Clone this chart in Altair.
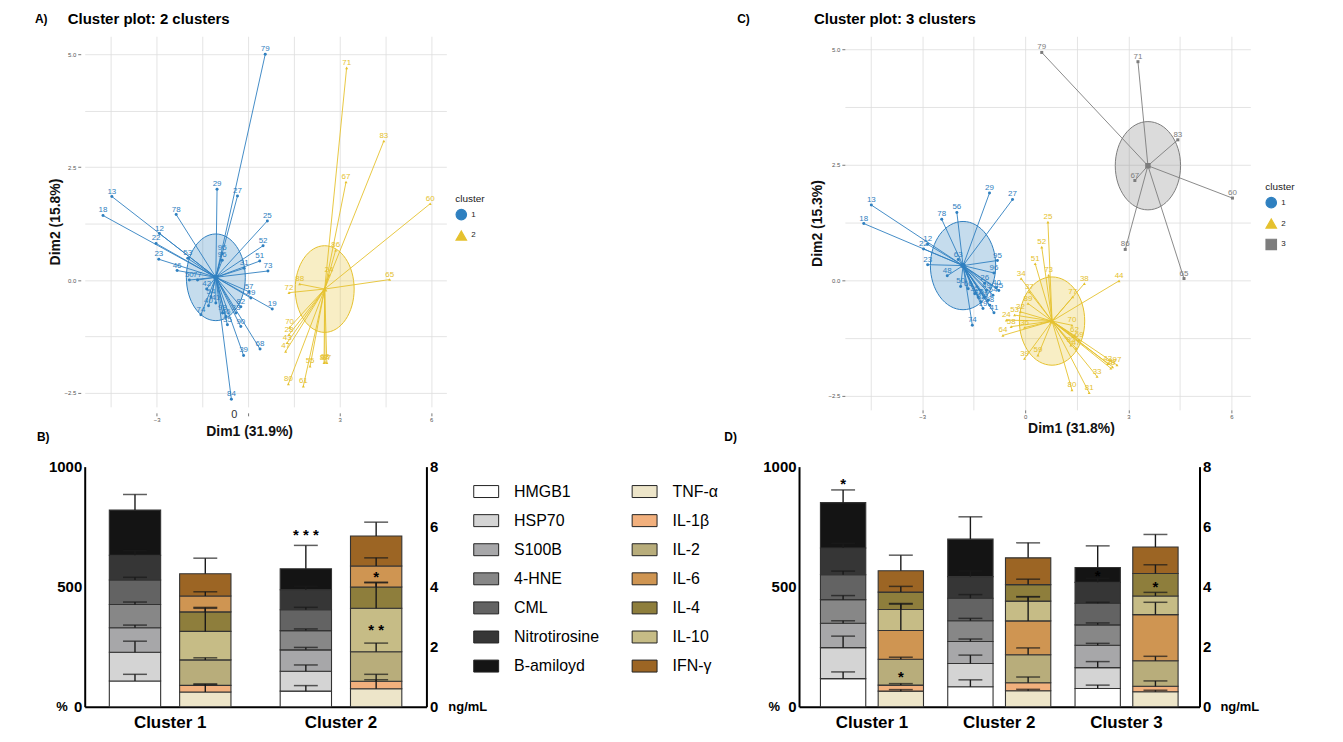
import altair as alt
import pandas as pd

FONT = "Liberation Sans"

# ================= Panel A : cluster plot, 2 clusters =================
a1_ids = [79, 13, 18, 78, 29, 27, 25, 52, 51, 73, 19, 68, 39, 84, 90, 12, 22, 23, 46, 53,
          50, 77, 95, 96, 31, 42, 54, 41, 74, 57, 49, 82, 33, 66, 35, 40, 98]
a1_x = [0.56, -4.47, -4.76, -2.36, -1.02, -0.35, 0.63, 0.49, 0.38, 0.65, 0.79, 0.39, -0.15, -0.55,
        -0.24, -2.91, -3.02, -2.93, -2.33, -1.98, -1.93, -1.66, -0.85, -0.85, -0.13, -1.36, -1.22,
        -1.06, -1.55, 0.03, 0.09, -0.24, -0.40, -0.73, -0.68, -1.30, -0.84]
a1_y = [5.00, 1.85, 1.43, 1.45, 2.01, 1.86, 1.31, 0.76, 0.42, 0.20, -0.64, -1.53, -1.67, -2.64,
        -1.03, 1.03, 0.81, 0.46, 0.21, 0.48, 0.00, 0.00, 0.59, 0.44, 0.26, -0.20, -0.37, -0.51,
        -0.77, -0.26, -0.40, -0.59, -0.73, -0.81, -0.99, -0.57, -0.73]
a2_ids = [71, 83, 67, 60, 86, 24, 65, 88, 72, 70, 28, 43, 47, 87, 97, 63, 55, 80, 61]
a2_x = [3.23, 4.45, 3.21, 5.97, 2.87, 2.65, 4.64, 1.69, 1.34, 1.36, 1.34, 1.28, 1.23, 2.49, 2.58,
        2.52, 2.03, 1.32, 1.81]
a2_y = [4.70, 3.08, 2.17, 1.69, 0.66, 0.11, 0.01, -0.09, -0.28, -1.05, -1.21, -1.39, -1.58, -1.83,
        -1.83, -1.82, -1.91, -2.30, -2.35]
a_cen_cluster = ["1", "2"]
a_cen_x = [-1.06, 2.51]
a_cen_y = [0.06, -0.20]

# ================= Panel C : cluster plot, 3 clusters =================
c1_ids = [13, 18, 78, 56, 29, 27, 12, 22, 23, 63, 48, 95, 96, 50, 26, 45, 41, 74, 19, 31, 42, 40,
          54, 82, 66, 35, 98, 57, 49]
c1_x = [-4.48, -4.70, -2.43, -1.99, -1.04, -0.37, -2.84, -2.96, -2.84, -1.95, -2.27, -0.81, -0.91,
        -1.88, -1.18, -0.77, -0.91, -1.54, -1.23, -1.08, -1.37, -0.84, -0.94, -1.28, -1.66, -1.47,
        -1.03, -1.20, -1.13]
c1_y = [1.63, 1.23, 1.32, 1.47, 1.89, 1.75, 0.78, 0.68, 0.34, 0.45, 0.10, 0.43, 0.16, -0.13, -0.06,
        -0.22, -0.70, -0.97, -0.61, -0.43, -0.36, -0.16, -0.32, -0.47, -0.18, -0.29, -0.54, -0.36,
        -0.22]
c2_ids = [25, 52, 51, 73, 34, 38, 44, 77, 37, 89, 32, 53, 24, 64, 58, 36, 39, 59, 70, 62, 69, 92,
          47, 97, 87, 33, 80, 81, 43, 28]
c2_x = [0.66, 0.48, 0.29, 0.68, -0.12, 1.72, 2.73, 1.38, 0.12, 0.08, -0.14, -0.31, -0.55, -0.65,
        -0.41, -0.02, -0.02, 0.37, 1.36, 1.43, 1.57, 1.33, 1.48, 2.67, 2.54, 2.09, 1.36, 1.86, 2.40,
        2.49]
c2_y = [1.26, 0.72, 0.36, 0.11, 0.04, -0.07, -0.01, -0.36, -0.25, -0.50, -0.68, -0.75, -0.86, -1.19,
        -1.00, -1.02, -1.69, -1.62, -0.97, -1.19, -1.29, -1.40, -1.47, -1.83, -1.87, -2.08, -2.37,
        -2.43, -1.80, -1.90]
c3_ids = [79, 71, 83, 67, 60, 86, 65]
c3_x = [0.48, 3.28, 4.44, 3.19, 6.03, 2.91, 4.62]
c3_y = [4.93, 4.73, 3.04, 2.16, 1.78, 0.67, 0.04]
c_cen_cluster = ["1", "2", "3"]
c_cen_x = [-1.81, 0.78, 3.57]
c_cen_y = [0.32, -0.88, 2.48]

CL_COLORS = ["#2f80c0", "#e5c12e", "#7d7d7d"]
CL_SHAPES = ["circle", "triangle-up", "square"]

# ================= Panels B & D : stacked bars =================
MARKERS = ["HMGB1", "HSP70", "S100B", "4-HNE", "CML", "Nitrotirosine", "B-amiloyd"]
MARKER_COLORS = ["#ffffff", "#d4d4d4", "#a7a7a9", "#878787", "#636363", "#363636", "#141414"]
CYTOKINES = ["TNF-α", "IL-1β", "IL-2", "IL-6", "IL-4", "IL-10", "IFN-γ"]
CYTO_COLORS = ["#ede5c9", "#f2b07d", "#b8ad7b", "#cf9552", "#8e7e3c", "#c6bc86", "#9c6524"]

b_clusters = ["Cluster 1", "Cluster 2"]
b_mark_vals = [[107, 120, 102, 97, 102, 103, 188], [65, 83, 89, 80, 87, 83, 88]]
b_mark_errs = [[28, 46, 11, 10, 11, 19, 65], [23, 26, 10, 7, 10, 15, 97]]
b_cyto_order = [["TNF-α", "IL-1β", "IL-2", "IL-10", "IL-4", "IL-6", "IFN-γ"],
                ["TNF-α", "IL-1β", "IL-2", "IL-10", "IL-4", "IL-6", "IFN-γ"]]
b_cyto_vals = [[0.49, 0.22, 0.85, 0.95, 0.65, 0.53, 0.74], [0.60, 0.25, 0.98, 1.45, 0.71, 0.70, 1.00]]
b_cyto_errs = [[0.25, 0.05, 0.07, 0.80, 0.12, 0.14, 0.52], [0.30, 0.23, 0.29, 0.87, 0.14, 0.27, 0.46]]
b_mstar_cluster = ["Cluster 2"]
b_mstar_y = [731]
b_mstar_text = ["* * *"]
b_cstar_cluster = ["Cluster 2", "Cluster 2"]
b_cstar_y = [4.45, 2.68]
b_cstar_text = ["*", "* *"]

d_clusters = ["Cluster 1", "Cluster 2", "Cluster 3"]
d_mark_vals = [[117, 129, 102, 98, 104, 111, 189], [83, 97, 92, 86, 94, 90, 156],
               [76, 87, 93, 85, 90, 87, 62]]
d_mark_errs = [[28, 48, 10, 17, 15, 19, 53], [29, 35, 10, 10, 15, 23, 93], [14, 25, 8, 8, 4, 17, 90]]
d_cyto_order = [["TNF-α", "IL-1β", "IL-2", "IL-6", "IL-10", "IL-4", "IFN-γ"]] * 3
d_cyto_vals = [[0.52, 0.20, 0.86, 0.96, 0.70, 0.58, 0.71], [0.53, 0.27, 0.93, 1.13, 0.66, 0.55, 0.89],
               [0.50, 0.18, 0.85, 1.54, 0.62, 0.75, 0.88]]
d_cyto_errs = [[0.05, 0.05, 0.07, 0.88, 0.20, 0.19, 0.52], [0.05, 0.19, 0.23, 0.81, 0.14, 0.18, 0.50],
               [0.05, 0.18, 0.15, 0.41, 0.12, 0.29, 0.42]]
d_mstar_cluster = ["Cluster 1", "Cluster 3"]
d_mstar_y = [946, 559]
d_mstar_text = ["*", "*"]
d_cstar_cluster = ["Cluster 1", "Cluster 3"]
d_cstar_y = [1.13, 4.12]
d_cstar_text = ["*", "*"]

# legend: first column markers, second column cytokines (column-major fill)
LEG_DOMAIN = MARKERS + CYTOKINES
LEG_RANGE = MARKER_COLORS + CYTO_COLORS


def ellipse_path(r):
    k = 0.5523
    return (f"M0,-1C{k*r:.4f},-1,{r:.4f},{-k:.4f},{r:.4f},0"
            f"C{r:.4f},{k:.4f},{k*r:.4f},1,0,1"
            f"C{-k*r:.4f},1,{-r:.4f},{k:.4f},{-r:.4f},0"
            f"C{-r:.4f},{-k:.4f},{-k*r:.4f},-1,0,-1Z")


def guide_layer(x1, x2, y1, y2):
    return alt.Chart(pd.DataFrame({"g": [0]})).mark_rect(opacity=0).encode(
        x=alt.value(x1), x2=alt.value(x2), y=alt.value(y1), y2=alt.value(y2))


def text_layer(txt, x, y, size, weight="bold", color="black"):
    return alt.Chart(pd.DataFrame({"t": [txt]})).mark_text(
        align="left", baseline="middle", fontSize=size, fontWeight=weight, font=FONT, color=color
    ).encode(text="t:N", x=alt.value(x), y=alt.value(y))


def cluster_panel(groups, cen_cl, cen_x, cen_y, x_dom, y_dom, w, h, xtitle, ytitle,
                  xtitle_x, x_off, y_off, ytitle_pad, ell_ratio, ell_size, leg_x, leg_y,
                  texts, guide, hide_zero):
    frames = []
    for cl, ids, xs, ys in groups:
        frames.append(pd.DataFrame({"id": [str(i) for i in ids], "x": xs, "y": ys, "cluster": cl}))
    pts = pd.concat(frames, ignore_index=True)
    pts["cx"] = pts["cluster"].map(dict(zip(cen_cl, cen_x)))
    pts["cy"] = pts["cluster"].map(dict(zip(cen_cl, cen_y)))
    cen = pd.DataFrame({"cluster": cen_cl, "x": cen_x, "y": cen_y})
    n = len(cen_cl)

    xlab = ("datum.value % 3 == 0 && datum.value != 0 ? datum.label : ''" if hide_zero
            else "datum.value % 3 == 0 ? datum.label : ''")
    xaxis = alt.Axis(values=[-4.5, -3, -1.5, 0, 1.5, 3, 4.5, 6], labelExpr=xlab,
                     grid=True, gridColor="#dddddd", gridWidth=0.8, domain=False,
                     tickColor={"condition": {"test": "datum.value % 3 == 0", "value": "#555555"},
                                "value": "transparent"},
                     tickSize=3, tickWidth=0.8, offset=x_off,
                     labelFontSize=6, labelColor="#555555", labelPadding=1,
                     title=xtitle, titleFontSize=14, titleFontWeight="bold", titleColor="#111111",
                     titlePadding=2, titleX=xtitle_x)
    yaxis = alt.Axis(values=[-2.5, -1.25, 0, 1.25, 2.5, 3.75, 5.0],
                     labelExpr="datum.value % 2.5 == 0 ? format(datum.value, '.1f') : ''",
                     grid=True, gridColor="#dddddd", gridWidth=0.8, domain=False,
                     tickColor={"condition": {"test": "datum.value % 2.5 == 0", "value": "#555555"},
                                "value": "transparent"},
                     tickSize=3, tickWidth=0.8, offset=y_off,
                     labelFontSize=6, labelColor="#555555", labelPadding=2,
                     title=ytitle, titleFontSize=14, titleFontWeight="bold", titleColor="#111111",
                     titlePadding=ytitle_pad)
    X = alt.X("x:Q", scale=alt.Scale(domain=x_dom, nice=False, zero=False), axis=xaxis)
    Y = alt.Y("y:Q", scale=alt.Scale(domain=y_dom, nice=False, zero=False), axis=yaxis)
    col_sc = alt.Scale(domain=cen_cl, range=CL_COLORS[:n])
    shp_sc = alt.Scale(domain=cen_cl, range=CL_SHAPES[:n])
    leg = alt.Legend(title="cluster", orient="none", legendX=leg_x, legendY=leg_y,
                     titleFontSize=10, titleFontWeight="normal", titleColor="#222222",
                     labelFontSize=8, labelColor="#222222", symbolSize=110, symbolOpacity=1,
                     symbolStrokeWidth=1.2, rowPadding=6, padding=0)
    C = alt.Color("cluster:N", scale=col_sc, legend=leg)
    S = alt.Shape("cluster:N", scale=shp_sc, legend=leg)
    shape = ellipse_path(ell_ratio)

    ell_fill = alt.Chart(cen).mark_point(shape=shape, size=ell_size, filled=True,
                                         opacity=0.28).encode(x=X, y=Y, color=C)
    ell_line = alt.Chart(cen).mark_point(shape=shape, size=ell_size, filled=False,
                                         opacity=1, strokeWidth=1).encode(x=X, y=Y, color=C)
    rays = alt.Chart(pts).mark_rule(strokeWidth=0.9).encode(
        x=X, y=Y, x2="cx:Q", y2="cy:Q", color=C)
    dots = alt.Chart(pts).mark_point(filled=True, size=9, opacity=1).encode(
        x=X, y=Y, color=C, shape=S)
    labels = alt.Chart(pts).mark_text(fontSize=8, dy=-5, font=FONT).encode(
        x=X, y=Y, text="id:N", color=C)
    cents = alt.Chart(cen).mark_point(filled=True, size=30, opacity=1).encode(
        x=X, y=Y, color=C, shape=S)
    layers = [guide_layer(*guide), ell_fill, ell_line, rays, dots, labels, cents]
    layers += [text_layer(*t) for t in texts]
    return alt.layer(*layers).properties(width=w, height=h)


def bar_panel(clusters, m_vals, m_errs, c_order, c_vals, c_errs,
              ms_cl, ms_y, ms_t, cs_cl, cs_y, cs_t,
              w, h, x_po, off_pi, off_po, legend, pct_x, ng_x, guide):
    mrows, crows = [], []
    for ci, cl in enumerate(clusters):
        top = 0.0
        for name, v, e in zip(MARKERS, m_vals[ci], m_errs[ci]):
            mrows.append(dict(cluster=cl, bar="a", comp=name, y0=top, y1=top + v, etop=top + v + e))
            top += v
        top = 0.0
        for name, v, e in zip(c_order[ci], c_vals[ci], c_errs[ci]):
            crows.append(dict(cluster=cl, bar="b", comp=name, y0=top, y1=top + v, etop=top + v + e))
            top += v
    mdf, cdf = pd.DataFrame(mrows), pd.DataFrame(crows)
    msd = pd.DataFrame({"cluster": ms_cl, "bar": "a", "y": ms_y, "t": ms_t})
    csd = pd.DataFrame({"cluster": cs_cl, "bar": "b", "y": cs_y, "t": cs_t})

    xaxis = alt.Axis(labelFontSize=17, labelFontWeight="bold", labelColor="black",
                     domainColor="black", domainWidth=2, ticks=False, labelPadding=8,
                     labelAngle=0, title=None, grid=False)
    X = alt.X("cluster:N", scale=alt.Scale(domain=clusters, paddingInner=0, paddingOuter=x_po),
              axis=xaxis, title=None)
    XO = alt.XOffset("bar:N", scale=alt.Scale(domain=["a", "b"], paddingInner=off_pi,
                                              paddingOuter=off_po))
    col = alt.Color("comp:N", scale=alt.Scale(domain=LEG_DOMAIN, range=LEG_RANGE), legend=legend)

    def side(df, sdf, dom, vals, orient, unit_txt, unit_x, unit_align):
        ax = alt.Axis(values=vals, orient=orient, format="d", labelFontSize=15,
                      labelFontWeight="bold", labelColor="black", domainColor="black",
                      domainWidth=2, ticks=False, labelPadding=3, grid=False, title=None)
        sc = alt.Scale(domain=dom, nice=False, zero=True)
        bars = alt.Chart(df).mark_bar(stroke="#333333", strokeWidth=1.1).encode(
            x=X, xOffset=XO, y=alt.Y("y1:Q", scale=sc, axis=ax, title=None), y2="y0:Q", color=col)
        err = alt.Chart(df).mark_rule(color="#1a1a1a", strokeWidth=1.4).encode(
            x=X, xOffset=XO, y=alt.Y("y1:Q", scale=sc, axis=ax, title=None), y2="etop:Q")
        cap = alt.Chart(df).mark_tick(color="#1a1a1a", thickness=1.5, size=24).encode(
            x=X, xOffset=XO, y=alt.Y("etop:Q", scale=sc, axis=ax, title=None))
        stars = alt.Chart(sdf).mark_text(fontSize=15, fontWeight="bold", dy=4, color="black").encode(
            x=X, xOffset=XO, y=alt.Y("y:Q", scale=sc, axis=ax, title=None), text="t:N")
        unit = alt.Chart(pd.DataFrame({"t": [unit_txt]})).mark_text(
            align=unit_align, baseline="middle", fontSize=13, fontWeight="bold",
            color="black").encode(text="t:N", x=alt.value(unit_x), y=alt.datum(0))
        return alt.layer(bars, err, cap, stars, unit)

    left = side(mdf, msd, [0, 1000], [0, 500, 1000], "left", "%", pct_x, "right")
    right = side(cdf, csd, [0, 8], [0, 2, 4, 6, 8], "right", "ng/mL", ng_x, "left")
    return alt.layer(guide_layer(*guide), left, right).resolve_scale(y="independent").properties(
        width=w, height=h)


# ---------------- build panels ----------------
panelA = cluster_panel(
    [("1", a1_ids, a1_x, a1_y), ("2", a2_ids, a2_x, a2_y)],
    a_cen_cluster, a_cen_x, a_cen_y, [-5.36, 6.5], [-2.81, 5.4], 363, 372,
    "Dim1 (31.9%)", "Dim2 (15.8%)", 165, 6, 4, 1, 0.68, 7569, 372, 158,
    [("A)", -50, -17, 12), ("Cluster plot: 2 clusters", -17, -17, 15), ("B)", -48, 402, 12),
     ("0", 147, 380, 11, "normal", "#333333")],
    (-55, 415, -27, 410), True)

panelC = cluster_panel(
    [("1", c1_ids, c1_x, c1_y), ("2", c2_ids, c2_x, c2_y), ("3", c3_ids, c3_x, c3_y)],
    c_cen_cluster, c_cen_x, c_cen_y, [-5.25, 6.55], [-2.80, 5.28], 407, 375,
    "Dim1 (31.8%)", "Dim2 (15.3%)", 227, 0, 0, 4, 0.74, 7850, 422, 146,
    [("C)", -108, -17, 12), ("Cluster plot: 3 clusters", -31, -17, 15), ("D)", -121, 402, 12)],
    (-128, 492, -27, 410), False)

bar_legend = alt.Legend(orient="none", legendX=390, legendY=12, columns=2, title=None,
                        symbolType="M-1,-0.48L1,-0.48L1,0.48L-1,0.48Z", symbolSize=625,
                        symbolStrokeColor="#222222", symbolStrokeWidth=1, symbolOpacity=1,
                        labelFontSize=16, labelColor="black", labelOffset=15, labelLimit=200,
                        rowPadding=8.2, columnPadding=30, padding=0)

panelB = bar_panel(b_clusters, b_mark_vals, b_mark_errs, b_cyto_order, b_cyto_vals, b_cyto_errs,
                   b_mstar_cluster, b_mstar_y, b_mstar_text, b_cstar_cluster, b_cstar_y, b_cstar_text,
                   343, 241, 0.0, 0.27, 0.35, bar_legend, -17, 365, (-50, 645, -22, 265))

panelD = bar_panel(d_clusters, d_mark_vals, d_mark_errs, d_cyto_order, d_cyto_vals, d_cyto_errs,
                   d_mstar_cluster, d_mstar_y, d_mstar_text, d_cstar_cluster, d_cstar_y, d_cstar_text,
                   402, 241, 0.073, 0.215, 0.21, None, -19, 423, (-72, 538, -22, 265))

RES = dict(color="independent", shape="independent", xOffset="independent")
top = alt.hconcat(panelA, panelC, spacing=220).resolve_scale(**RES)
bottom = alt.hconcat(panelB, panelD, spacing=0).resolve_scale(**RES)
chart = (alt.vconcat(top, bottom, spacing=0).resolve_scale(**RES)
         .properties(padding={"left": 22, "top": 0, "right": 0, "bottom": 0})
         .configure(font=FONT)
         .configure_view(stroke=None))

chart.save("out.html", embed_options={"renderer": "svg", "actions": False})
